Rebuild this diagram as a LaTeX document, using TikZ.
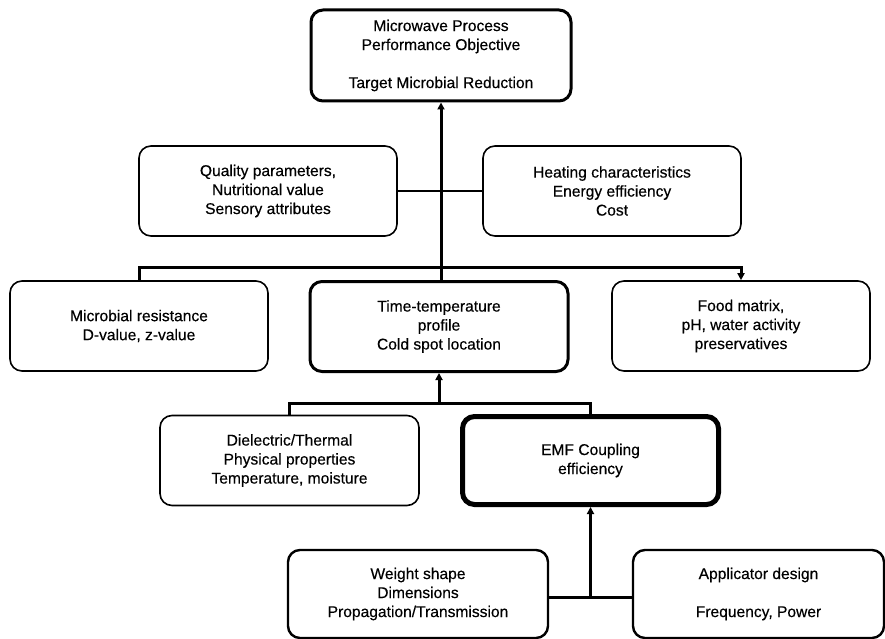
\documentclass[tikz,border=0pt]{standalone}
\usepackage{fontspec}
\setmainfont{Liberation Sans}
\newfontfamily\boxfont{Liberation Sans}[FakeBold=0.4]
\usetikzlibrary{arrows.meta}
\begin{document}
\begin{tikzpicture}[x=1pt,y=-1pt,
  box/.style={draw=black, rounded corners=12pt, align=center, inner sep=0pt,
    minimum width=258pt, minimum height=90pt, line width=1.6pt,
    font=\boxfont\fontsize{15.6}{19}\selectfont},
  thickbox/.style={box, line width=3pt},
  midbox/.style={box, line width=2.4pt},
  heavybox/.style={box, line width=5pt},
  conn/.style={draw=black, line width=3pt},
  thinconn/.style={draw=black, line width=2.2pt},
  arr/.style={-{Triangle[width=7pt,length=7pt]}}
]
\useasboundingbox (0,0) rectangle (885,639);

\node[thickbox, minimum width=260pt, minimum height=91pt] (top) at (441,55.5)
  {Microwave Process\\Performance Objective\\[19pt]Target Microbial Reduction};

\node[box] (quality) at (268,191) {Quality parameters,\\Nutritional value\\Sensory attributes};
\node[box] (heating) at (612,191) {Heating characteristics\\Energy efficiency\\Cost};

\node[box] (micro) at (139,326) {Microbial resistance\\D-value, z-value};
\node[thickbox] (tt) at (439,326.5) {Time-temperature\\profile\\Cold spot location};
\node[box] (food) at (741,326) {Food matrix,\\pH, water activity\\preservatives};

\node[box, minimum width=259pt] (diel) at (289.5,460.5) {Dielectric/Thermal\\Physical properties\\Temperature, moisture};
\node[heavybox, minimum width=256pt, minimum height=88pt] (emf) at (590.5,460.5) {EMF Coupling\\efficiency};

\node[midbox, minimum width=260pt, minimum height=88pt] (weight) at (418,594) {Weight shape\\Dimensions\\Propagation/Transmission};
\node[midbox, minimum width=251pt, minimum height=88pt] (appl) at (758.5,594) {Applicator design\\[19pt]Frequency, Power};

\coordinate (b1) at (0,267);
\coordinate (b2) at (0,403);
\coordinate (b3) at (0,597);

% main vertical to top objective
\draw[conn, arr] (tt.north -| top.south) -- (top.south);
\draw[thinconn] (quality.east) -- (quality.east -| top.south);
\draw[thinconn] (heating.west) -- (heating.west -| top.south);

% first bar
\draw[conn, arr] (micro.north) -- (micro.north |- b1) -| (food.north);

% second bar
\draw[conn] (diel.north) -- (diel.north |- b2) -| (emf.north);
\draw[conn, arr] (tt.south |- b2) -- (tt.south);

% third bar
\draw[conn] (weight.east |- b3) -- (appl.west |- b3);
\draw[conn, arr] (emf.south |- b3) -- (emf.south);
\end{tikzpicture}
\end{document}
